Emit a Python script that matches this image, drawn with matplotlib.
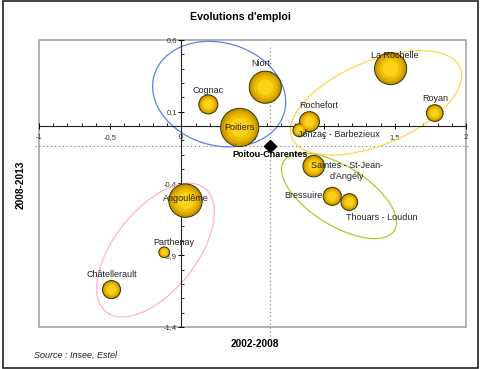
import matplotlib
matplotlib.use("Agg")
import matplotlib.pyplot as plt
from matplotlib.patches import Ellipse, Rectangle

plt.rcParams['font.family'] = ['Liberation Sans', 'DejaVu Sans']

# zones d'emploi: evolution 2002-2008 (x), 2008-2013 (y), emploi (milliers, taille des bulles)
zones = ["Cognac", "Niort", "Poitiers", "La Rochelle", "Royan", "Rochefort",
         "Jonzac - Barbezieux", "Saintes - St-Jean-\nd'Angély", "Bressuire",
         "Thouars - Loudun", "Angoulême", "Parthenay", "Châtellerault"]
evol_2002_2008 = [0.19, 0.59, 0.41, 1.47, 1.78, 0.90, 0.83, 0.93, 1.06, 1.18, 0.03, -0.12, -0.49]
evol_2008_2013 = [0.15, 0.27, -0.01, 0.40, 0.09, 0.03, -0.03, -0.28, -0.49, -0.53, -0.52, -0.88, -1.14]
emploi = [30, 85, 120, 85, 23, 33, 14, 38, 27, 23, 92, 9.5, 27]

region = "Poitou-Charentes"
region_x = 0.62
region_y = -0.14

xticks = [-1, -0.5, 0, 0.5, 1, 1.5, 2]
xtick_labels = ["-1", "-0,5", "0", "0,5", "1", "1,5", "2"]
yticks = [0.6, 0.1, -0.4, -0.9, -1.4]
ytick_labels = ["0,6", "0,1", "-0,4", "-0,9", "-1,4"]

fig = plt.figure(figsize=(4.8, 3.69), dpi=100)
ax = fig.add_axes([0.081, 0.114, 0.890, 0.778])
ax.set_xlim(-1, 2)
ax.set_ylim(-1.4, 0.6)

# groupes (ellipses)
groups = [
    ((0.266, 0.222), 0.95, 0.715, -15.8, '#5a82f0'),
    ((1.368, 0.161), 1.278, 0.583, 22.5, '#ffd54a'),
    ((1.108, -0.487), 0.914, 0.414, -31.7, '#a9cf2c'),
    ((-0.181, -0.865), 1.106, 0.573, 51, '#ffb0cf'),
]
for c, w, h, ang, col in groups:
    ax.add_patch(Ellipse(c, w, h, angle=ang, fill=False, ec=col, lw=0.9, zorder=2))

# reference lines for the region
ax.plot([-1.03, 2.03], [region_y, region_y], ls=(0, (1, 2.5)), color='#777', lw=0.8,
        clip_on=False, zorder=1)
ax.plot([region_x, region_x], [0.55, -1.46], ls=(0, (1, 2.5)), color='#777', lw=0.8,
        clip_on=False, zorder=1)

# bubbles, shaded with concentric layers
k = 6.3
sizes = [e * k for e in emploi]
ax.scatter(evol_2002_2008, evol_2008_2013, s=sizes, c='#c39500', edgecolors='#3d3000',
           linewidths=0.7, zorder=4)
for f, col in [(0.72, '#dcab00'), (0.48, '#efbf00'), (0.25, '#fdd21a')]:
    ax.scatter(evol_2002_2008, evol_2008_2013, s=[s * f for s in sizes], c=col,
               linewidths=0, zorder=5)

ax.scatter([region_x], [region_y], marker='D', s=38, c='black', zorder=6)
ax.annotate(region, (region_x, region_y), xytext=(0, -6), textcoords='offset points',
            ha='center', va='center', fontsize=6.5, fontweight='bold', zorder=7)

# label offsets in points
offsets = {
    "Cognac": (0, 10, 'center'), "Niort": (-3.5, 17, 'center'), "Poitiers": (0, 0, 'center'),
    "La Rochelle": (3, 9.5, 'center'), "Royan": (0, 10.5, 'center'),
    "Rochefort": (6.5, 11.5, 'center'), "Jonzac - Barbezieux": (-1, -3, 'left'),
    "Saintes - St-Jean-\nd'Angély": (24, -3.5, 'center'), "Bressuire": (-7, 0.5, 'right'),
    "Thouars - Loudun": (23.5, -11, 'center'), "Angoulême": (0, 1.5, 'center'),
    "Parthenay": (7, 7, 'center'), "Châtellerault": (0, 11, 'center'),
}
for name, x, y in zip(zones, evol_2002_2008, evol_2008_2013):
    dx, dy, ha = offsets[name]
    ax.annotate(name, (x, y), xytext=(dx, dy), textcoords='offset points', ha=ha,
                va='center', fontsize=6.5, color='#222', zorder=7, linespacing=1.3)

# axes crossing at zero
for side in ['top', 'right']:
    ax.spines[side].set_visible(False)
ax.spines['left'].set_position(('data', 0))
ax.spines['bottom'].set_position(('data', 0))
ax.spines['left'].set_color('#222')
ax.spines['bottom'].set_color('#222')
ax.add_patch(Rectangle((0, 0), 1, 1, transform=ax.transAxes, fill=False, ec='#a5a5a5',
                       lw=1.2, clip_on=False, zorder=0))

ax.set_xticks(xticks)
ax.set_xticklabels(xtick_labels)
ax.set_yticks(yticks)
ax.set_yticklabels(ytick_labels)
ax.set_xticks([i / 10 for i in range(-10, 21)], minor=True)
ax.set_yticks([i / 10 for i in range(-14, 7)], minor=True)
ax.tick_params(which='major', direction='inout', length=4, width=0.7, labelsize=5.5,
               labelcolor='#333')
ax.tick_params(axis='x', which='major', pad=3.5)
ax.tick_params(axis='y', which='major', pad=1)
ax.tick_params(which='minor', direction='in', length=2, width=0.6)

fig.text(0.5, 0.955, "Evolutions d'emploi", ha='center', va='center', fontsize=7.7,
         fontweight='bold')
fig.text(0.53, 0.068, "2002-2008", ha='center', va='center', fontsize=7.3, fontweight='bold')
fig.text(0.042, 0.5, "2008-2013", ha='center', va='center', rotation=90, fontsize=7.3,
         fontweight='bold')
fig.text(0.071, 0.038, "Source : Insee, Estel", ha='left', va='center', fontsize=6.5,
         style='italic', color='#222')

fig.add_artist(Rectangle((0.006, 0.003), 0.99, 0.994, transform=fig.transFigure,
                         fill=False, ec='#222', lw=1.2))

plt.savefig("out.png", dpi=100)
